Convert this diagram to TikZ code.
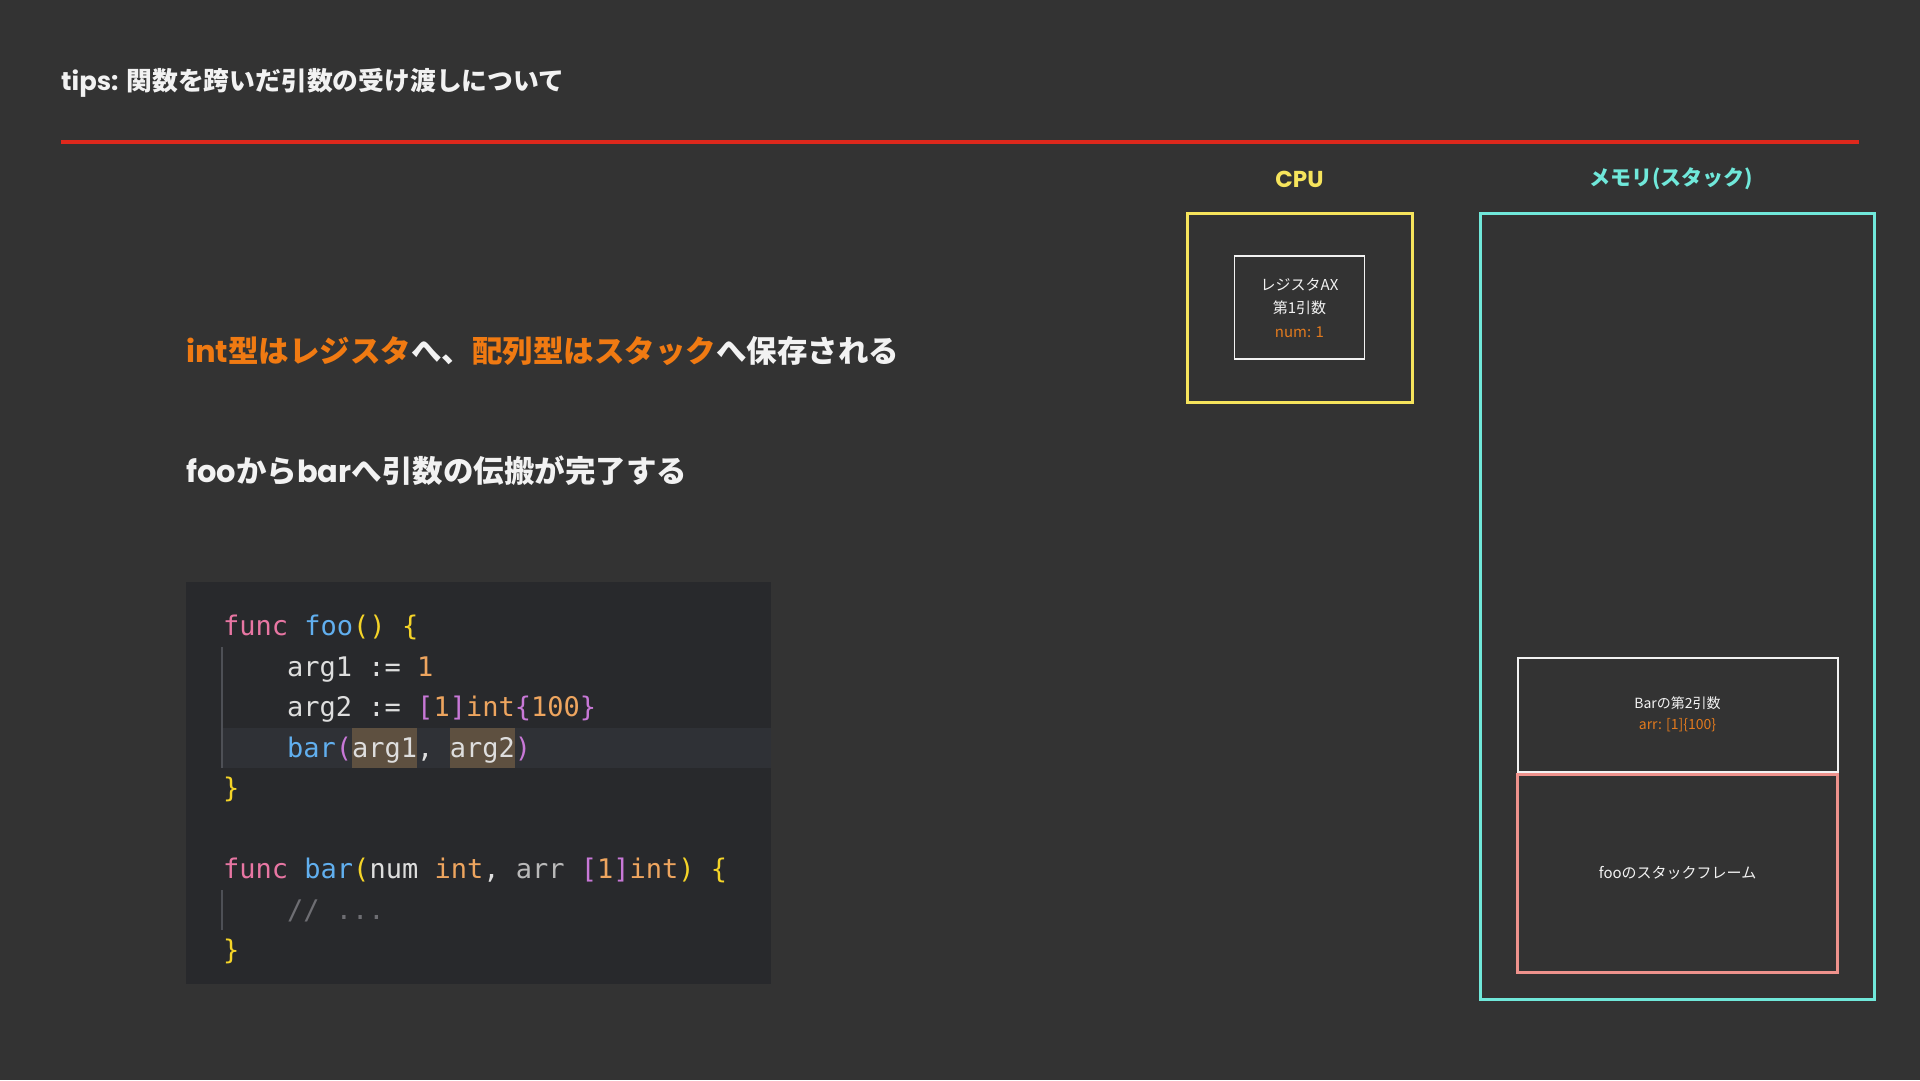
\documentclass[tikz,border=0pt]{standalone}
\usepackage{fontspec}
\usepackage{xcolor}
\usepackage{tikz}
\usetikzlibrary{positioning}
\newfontfamily\jpfont{Noto Sans CJK JP}
\newfontfamily\latinfont{Poppins}
\newfontfamily\codefont{DejaVu Sans Mono}
\definecolor{bgdark}{RGB}{51,51,51}
\definecolor{codebg}{RGB}{40,41,44}
\definecolor{linehl}{RGB}{47,49,54}
\definecolor{arghl}{RGB}{94,80,64}
\definecolor{guidegray}{RGB}{78,80,86}
\definecolor{titlered}{RGB}{222,40,28}
\definecolor{headorange}{RGB}{240,122,18}
\definecolor{textwhite}{RGB}{242,242,242}
\definecolor{cpuyellow}{RGB}{246,228,92}
\definecolor{memcyan}{RGB}{112,232,218}
\definecolor{framepink}{RGB}{238,146,140}
\definecolor{valorange}{RGB}{226,122,30}
\definecolor{tokpink}{RGB}{232,118,163}
\definecolor{tokblue}{RGB}{97,175,239}
\definecolor{tokyellow}{RGB}{245,212,40}
\definecolor{toknumber}{RGB}{238,165,95}
\definecolor{tokpurple}{RGB}{200,120,215}
\definecolor{tokwhite}{RGB}{222,222,222}
\definecolor{tokgray}{RGB}{185,185,185}
\definecolor{tokcomment}{RGB}{110,110,115}
\newcommand\tokkw[1]{\textcolor{tokpink}{#1}}
\newcommand\tokfn[1]{\textcolor{tokblue}{#1}}
\newcommand\tokyl[1]{\textcolor{tokyellow}{#1}}
\newcommand\toknum[1]{\textcolor{toknumber}{#1}}
\newcommand\tokpu[1]{\textcolor{tokpurple}{#1}}
\newcommand\tokgy[1]{\textcolor{tokgray}{#1}}
\newcommand\tokcm[1]{\textcolor{tokcomment}{#1}}
\newcommand\tokhl[1]{{\setlength{\fboxsep}{0pt}\colorbox{arghl}{\rule[-11pt]{0pt}{40pt}#1}}}
\newcommand\lat[1]{{\latinfont #1}}

\begin{document}
\begin{tikzpicture}[
  x=1pt, y=-1pt,
  heading/.style  = {anchor=west, inner sep=0pt, text=textwhite,
                     font=\jpfont\bfseries\fontsize{30.5}{36}\selectfont},
  codeline/.style = {anchor=base west, inner sep=0pt, text=tokwhite,
                     font=\codefont\fontsize{27}{40}\selectfont},
  unitlabel/.style= {inner sep=0pt, font=\jpfont\bfseries\fontsize{21}{26}\selectfont},
  cpubox/.style   = {draw=cpuyellow, line width=3pt, minimum width=225pt, minimum height=189pt},
  regbox/.style   = {draw=textwhite, line width=1.2pt, minimum width=130pt, minimum height=103pt,
                     align=center, text=textwhite, font=\jpfont\fontsize{15}{23.5}\selectfont},
  membox/.style   = {draw=memcyan, line width=3pt, minimum width=394pt, minimum height=786pt},
  argbox/.style   = {draw=textwhite, line width=2pt, minimum width=320pt, minimum height=114pt,
                     align=center, text=textwhite, font=\jpfont\fontsize{14}{21}\selectfont},
  framebox/.style = {draw=framepink, line width=3pt, minimum width=320pt, minimum height=198pt,
                     text=textwhite, font=\jpfont\fontsize{15}{18}\selectfont},
]

%% --- Page ---
\fill[bgdark] (0,0) rectangle (1920,1080);
\useasboundingbox (0,0) rectangle (1920,1080);

%% --- Title ---
\node[anchor=west, inner sep=0pt, text=textwhite,
      font=\jpfont\bfseries\fontsize{25.8}{30}\selectfont] (title) at (61,83)
      {\lat{tips:} 関数を跨いだ引数の受け渡しについて};
\draw[titlered, line width=4pt] (61,142) -- (1859,142);

%% --- Notes ---
\node[heading] (regnote)  at (186,351)
  {\textcolor{headorange}{\lat{int}型はレジスタ}へ、\textcolor{headorange}{配列型はスタック}へ保存される};
\node[heading] (passnote) at (186,471) {\lat{foo}から\lat{bar}へ引数の伝搬が完了する};

%% --- Code ---
\node[fill=codebg, inner sep=0pt, minimum width=585pt, minimum height=402pt,
      anchor=north west] (codebox) at (186,582) {};
\fill[linehl] (222,728) rectangle (771,768);
\draw[guidegray, line width=1.5pt] (222,647) -- (222,768);
\draw[guidegray, line width=1.5pt] (222,890) -- (222,930);

\node[codeline] (l1) at (223,635.5) {\tokkw{func} \tokfn{foo}\tokyl{()} \tokyl{\{}};
\node[codeline] (l2) at (287,676)   {arg1 := \toknum{1}};
\node[codeline] (l3) at (287,716.5)
  {arg2 := \tokpu{[}\toknum{1}\tokpu{]}\toknum{int}\tokpu{\{}\toknum{100}\tokpu{\}}};
\node[codeline] (l4) at (287,757)   {\tokfn{bar}\tokpu{(}\tokhl{arg1}, \tokhl{arg2}\tokpu{)}};
\node[codeline] (l5) at (223,797.5) {\tokyl{\}}};
\node[codeline] (l6) at (223,878.5)
  {\tokkw{func} \tokfn{bar}\tokyl{(}num \toknum{int}, \tokgy{arr} \tokpu{[}\toknum{1}\tokpu{]}\toknum{int}\tokyl{)} \tokyl{\{}};
\node[codeline] (l7) at (287,919)   {\tokcm{// ...}};
\node[codeline] (l8) at (223,959.5) {\tokyl{\}}};

%% --- CPU ---
\node[cpubox] (cpu) at (1299.5,307.5) {};
\node[unitlabel, text=cpuyellow, above=24pt of cpu, font=\latinfont\bfseries\fontsize{23}{28}\selectfont] (cpulabel) {CPU};
\node[regbox] (reg) at (cpu.center) {レジスタAX\\第1引数\\\textcolor{valorange}{num: 1}};

%% --- Memory (stack) ---
\node[membox] (mem) at (1677,606) {};
\node[unitlabel, text=memcyan] (memlabel) at (1671,179) {メモリ(スタック)};
\node[argbox] (arg) at (1677.5,714.5) {Barの第2引数\\\textcolor{valorange}{arr: [1]\{100\}}};
\node[framebox, below=0pt of arg] (fooframe) {fooのスタックフレーム};

\end{tikzpicture}
\end{document}
